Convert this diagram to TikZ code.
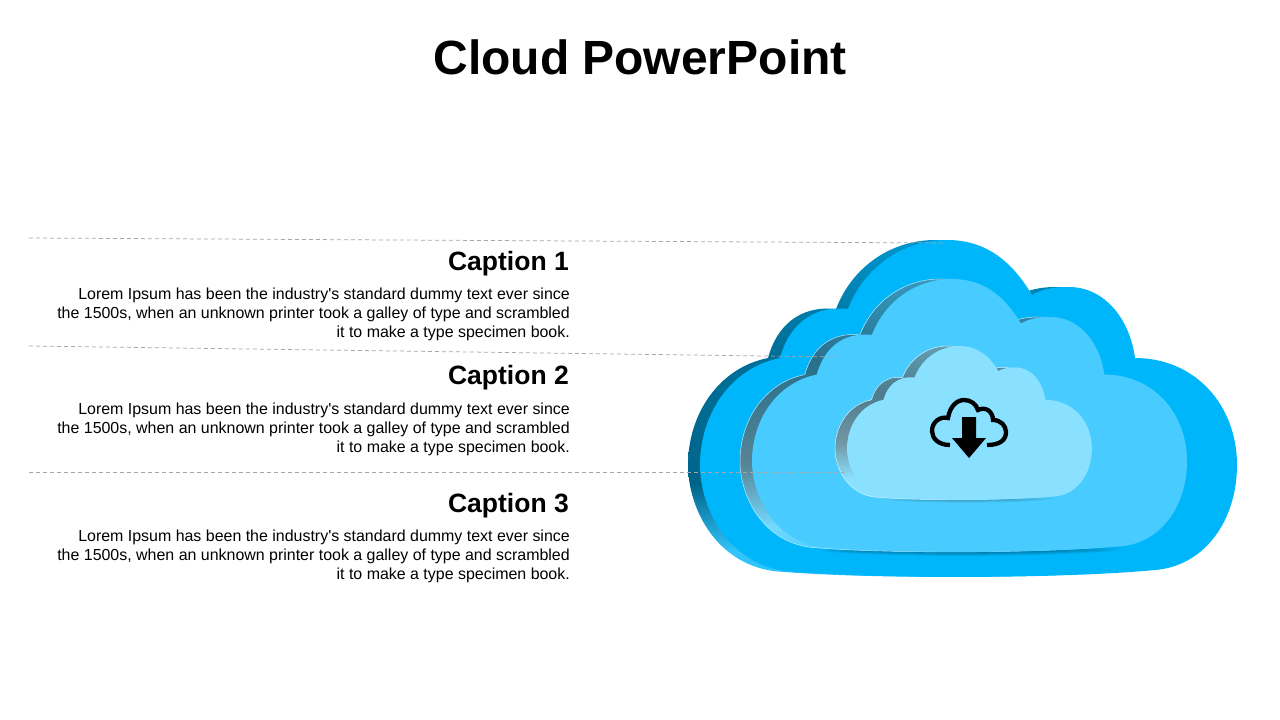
\documentclass[tikz,border=0pt]{standalone}
\usepackage{fontspec}
\setmainfont{Liberation Sans}
\newfontfamily\blurbfont{Liberation Sans}
\usetikzlibrary{positioning}
\definecolor{outerblue}{HTML}{00B6FA}
\definecolor{midblue}{HTML}{48CCFF}
\definecolor{innerblue}{HTML}{8AE1FF}
\pgfdeclareverticalshading{outerdepth}{100bp}{color(0bp)=(outerblue); color(25bp)=(outerblue!85!white); color(29bp)=(outerblue!80!white); color(39bp)=(outerblue!55!black); color(60bp)=(outerblue!62!black); color(75bp)=(outerblue!82!black); color(100bp)=(outerblue!82!black)}
\pgfdeclareverticalshading{middepth}{100bp}{color(0bp)=(midblue); color(25bp)=(midblue); color(30bp)=(midblue!75!white); color(41bp)=(midblue!45!black!75!white); color(60bp)=(midblue!55!black); color(75bp)=(midblue!75!black); color(100bp)=(midblue!75!black)}
\pgfdeclareverticalshading{innerdepth}{100bp}{color(0bp)=(innerblue); color(25bp)=(innerblue); color(32bp)=(innerblue); color(44bp)=(innerblue!55!black!80!white); color(60bp)=(innerblue!55!black); color(75bp)=(innerblue!70!black); color(100bp)=(innerblue!70!black)}
\newcommand{\cloudpath}{(80,118) .. controls (30,128) and (0,175) .. (0,225)
  .. controls (0,265) and (25,322) .. (85,331)
  .. controls (170,339) and (360,339) .. (455,330)
  .. controls (505,326) and (537,280) .. (537,225)
  .. controls (537,165) and (495,118) .. (435,118)
  .. controls (430,80) and (405,46) .. (367,47)
  .. controls (352,47) and (340,50) .. (332,55)
  .. controls (310,18) and (283,0) .. (247,0)
  .. controls (205,0) and (165,25) .. (148,69)
  .. controls (110,65) and (88,88) .. (80,118) -- cycle}
\newcommand{\lenspath}{(85,331) .. controls (170,339) and (360,339) .. (455,330) -- cycle}

\begin{document}
\begin{tikzpicture}[x=1pt,y=-1pt]
  \tikzstyle{heading} = [inner sep=0pt, anchor=east, font=\fontsize{26.5}{30}\selectfont\bfseries]
  \tikzstyle{blurb} = [inner sep=0pt, anchor=east, align=right, font=\blurbfont\fontsize{15.95}{19}\selectfont]
  \tikzstyle{rule} = [dash pattern=on 4pt off 3pt, color=black!35, line width=0.75pt]
  \useasboundingbox (0,0) rectangle (1280,720);

  % Outer cloud
  \begin{scope}[shift={(688,240)}]
    \shade[shading=outerdepth] \cloudpath;
  \end{scope}
  \begin{scope}[shift={(700,240)}]
    \fill[outerblue] \cloudpath;
  \end{scope}

  % Middle cloud
  \foreach \dy in {1,2,3,4} {
    \begin{scope}[shift={(752,279+\dy)}, scale=0.81]
      \fill[black, opacity=0.08] \lenspath;
    \end{scope}
  }
  \begin{scope}[shift={(740,279)}, scale=0.81]
    \shade[shading=middepth, draw=white!60!midblue, line width=0.5pt] \cloudpath;
  \end{scope}
  \begin{scope}[shift={(752,279)}, scale=0.81]
    \fill[midblue] \cloudpath;
  \end{scope}

  % Inner cloud
  \foreach \dy in {1,2,3} {
    \begin{scope}[shift={(847,346+\dy)}, scale=0.456]
      \fill[black, opacity=0.07] \lenspath;
    \end{scope}
  }
  \begin{scope}[shift={(835,346)}, scale=0.456]
    \shade[shading=innerdepth, draw=white!60!innerblue, line width=0.5pt] \cloudpath;
  \end{scope}
  \begin{scope}[shift={(847,346)}, scale=0.456]
    \fill[innerblue] \cloudpath;
  \end{scope}

  % Download icon
  \draw[line width=4.3pt] (950,445) .. controls (938,445) and (932,438) .. (932,431)
    .. controls (932,422) and (940,416) .. (948,418)
    .. controls (950,406) and (957,400) .. (964,400)
    .. controls (971,400) and (976,404) .. (978,410)
    .. controls (986,406) and (993,412) .. (993,420)
    .. controls (1001,420) and (1006,426) .. (1006,432)
    .. controls (1006,440) and (1000,445) .. (987,445);
  \fill (962,417) -- (976,417) -- (976,438) -- (986,438) -- (969,458) -- (952,438) -- (962,438) -- cycle;

  % Define nodes
  \node[inner sep=0pt, font=\fontsize{48}{56}\selectfont\bfseries] (title) at (640,57) {Cloud PowerPoint};
  \node[heading] (cap1) at (569,264) {Caption 1};
  \node[heading] (cap2) at (569,378) {Caption 2};
  \node[heading] (cap3) at (569,506) {Caption 3};
  \node[blurb] (txt1) at (570,314) {Lorem Ipsum has been the industry's standard dummy text ever since\\the 1500s, when an unknown printer took a galley of type and scrambled\\it to make a type specimen book.};
  \node[blurb] (txt2) at (570,429) {Lorem Ipsum has been the industry's standard dummy text ever since\\the 1500s, when an unknown printer took a galley of type and scrambled\\it to make a type specimen book.};
  \node[blurb] (txt3) at (570,556) {Lorem Ipsum has been the industry's standard dummy text ever since\\the 1500s, when an unknown printer took a galley of type and scrambled\\it to make a type specimen book.};

  % Leader lines
  \coordinate (a1) at (29,238);
  \coordinate (b1) at (945,243);
  \coordinate (a2) at (29,346);
  \coordinate (b2) at (837,357);
  \coordinate (a3) at (29,472);
  \coordinate (b3) at (847,472);
  \draw[rule] (a1) -- (b1);
  \draw[rule] (a2) -- (b2);
  \draw[rule] (a3) -- (b3);
\end{tikzpicture}
\end{document}
